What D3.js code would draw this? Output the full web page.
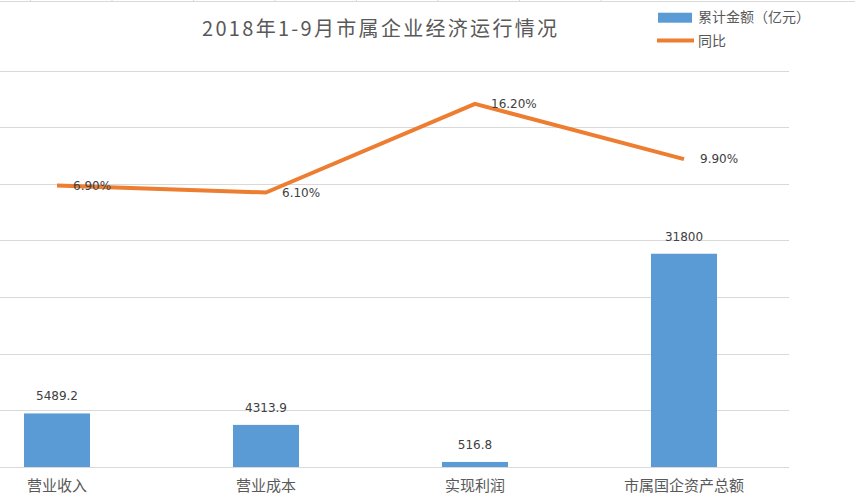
<!DOCTYPE html>
<html><head><meta charset="utf-8">
<script src="https://cdn.jsdelivr.net/npm/d3@7"></script>
<style>body{margin:0;background:#fff}svg{display:block}</style>
</head><body>
<svg id="c" width="855" height="504"></svg>
<script>
const title = "2018年1-9月市属企业经济运行情况";
const categories = ["营业收入", "营业成本", "实现利润", "市属国企资产总额"];
const amounts = [5489.2, 4313.9, 516.8, 31800];
const amountLabels = ["5489.2", "4313.9", "516.8", "31800"];
const yoy = [6.9, 6.1, 16.2, 9.9];
const yoyLabels = ["6.90%", "6.10%", "16.20%", "9.90%"];
const legendNames = ["累计金额（亿元）", "同比"];
const gridCount = 7;

const W = 855, H = 504;
const blue = "#5B9BD5", orange = "#ED7D31", grid = "#d9d9d9";
const cjk = "'Noto Sans CJK SC', 'Noto Sans', sans-serif";
const num = "'DejaVu Sans', sans-serif";

const svg = d3.select("#c");

const x = d3.scaleBand().domain(categories).range([-47.5, 788.5])
  .paddingInner(0.684).paddingOuter(0.342);
const y = d3.scaleLinear().domain([0, 5800, 34000]).range([467, 410.4, 240.5]);
const y2 = d3.scaleLinear().domain([0, 20]).range([246, 70.5]);
const gy = d3.scaleLinear().domain([0, gridCount]).range([467, 70.5]);

// top border with small cell ticks
svg.append("line").attr("x1", 0).attr("x2", W).attr("y1", 1.5).attr("y2", 1.5)
  .attr("stroke", grid).attr("stroke-width", 1);
svg.selectAll(".tk").data(d3.range(8)).join("line")
  .attr("x1", i => 30.5 + i * 81.5).attr("x2", i => 30.5 + i * 81.5)
  .attr("y1", 0).attr("y2", 2).attr("stroke", grid);

// gridlines
svg.append("g").selectAll("line").data(d3.range(gridCount + 1)).join("line")
  .attr("x1", 0).attr("x2", 789)
  .attr("y1", d => Math.round(gy(d)) + 0.5).attr("y2", d => Math.round(gy(d)) + 0.5)
  .attr("stroke", grid).attr("stroke-width", 1);

// bars
svg.append("g").selectAll("rect").data(amounts).join("rect")
  .attr("x", (d, i) => x(categories[i]))
  .attr("width", x.bandwidth())
  .attr("y", d => y(d))
  .attr("height", d => y(0) - y(d))
  .attr("fill", blue);

// bar labels
svg.append("g").selectAll("text").data(amounts).join("text")
  .attr("x", (d, i) => x(categories[i]) + x.bandwidth() / 2)
  .attr("y", d => y(d) - 13)
  .attr("text-anchor", "middle")
  .attr("font-family", num).attr("font-size", 12).attr("fill", "#404040")
  .text((d, i) => amountLabels[i]);

// line
const cx = (i) => x(categories[i]) + x.bandwidth() / 2;
svg.append("path").datum(yoy)
  .attr("d", d3.line().x((d, i) => cx(i)).y(d => y2(d)))
  .attr("fill", "none").attr("stroke", orange).attr("stroke-width", 4)
  .attr("stroke-linejoin", "round");

svg.append("g").selectAll("text").data(yoy).join("text")
  .attr("x", (d, i) => cx(i) + 16)
  .attr("y", d => y2(d))
  .attr("dy", "0.36em")
  .attr("font-family", num).attr("font-size", 12).attr("fill", "#404040")
  .text((d, i) => yoyLabels[i]);

// category labels
svg.append("g").selectAll("text").data(categories).join("text")
  .attr("x", (d) => x(d) + x.bandwidth() / 2)
  .attr("y", 491)
  .attr("text-anchor", "middle")
  .attr("font-family", cjk).attr("font-size", 15).attr("fill", "#595959")
  .text(d => d);

// title
svg.append("text").attr("x", 202).attr("y", 36)
  .attr("font-family", cjk).attr("font-size", 20).attr("fill", "#595959")
  .attr("textLength", 355).attr("lengthAdjust", "spacing")
  .text(title);

// legend
svg.append("rect").attr("x", 658).attr("y", 12.7).attr("width", 34).attr("height", 10).attr("fill", blue);
svg.append("line").attr("x1", 657).attr("x2", 694).attr("y1", 40.5).attr("y2", 40.5)
  .attr("stroke", orange).attr("stroke-width", 4);
svg.append("g").selectAll("text").data(legendNames).join("text")
  .attr("x", 698).attr("y", (d, i) => 17 + i * 24)
  .attr("dy", "0.36em")
  .attr("font-family", cjk).attr("font-size", 14).attr("fill", "#595959")
  .text(d => d);
</script>
</body></html>
